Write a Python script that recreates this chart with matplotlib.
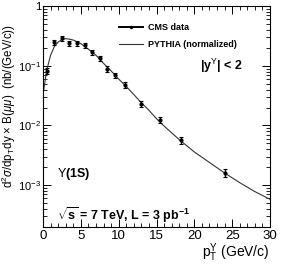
import numpy as np
import matplotlib
matplotlib.use('Agg')
import matplotlib.pyplot as plt
from matplotlib.lines import Line2D
from matplotlib.ticker import LogLocator, MultipleLocator, NullFormatter

plt.rcParams['font.family'] = ['Liberation Sans', 'DejaVu Sans']
plt.rcParams['mathtext.fontset'] = 'custom'
plt.rcParams['mathtext.rm'] = 'Liberation Sans'
plt.rcParams['mathtext.it'] = 'Liberation Sans:italic'
plt.rcParams['mathtext.bf'] = 'Liberation Sans:bold'

# CMS data points (pT, cross section)
pt_data = [0.5, 1.5, 2.5, 3.5, 4.5, 5.5, 6.5, 7.5, 8.5, 9.5, 10.9, 13.0, 15.5, 18.3, 24.0]
xs_data = [0.083, 0.25, 0.29, 0.24, 0.24, 0.22, 0.17, 0.134, 0.089, 0.069, 0.048,
           0.023, 0.0123, 0.0057, 0.0016]
xs_err = [0.010, 0.025, 0.025, 0.022, 0.022, 0.020, 0.016, 0.013, 0.009, 0.007, 0.005,
          0.0025, 0.0014, 0.0008, 0.00025]

# PYTHIA curve
pt_mc = [0.1, 0.5, 1.0, 1.5, 2.0, 2.5, 3.0, 3.5, 4.0, 5.0, 6.0, 7.0, 8.0, 9.0, 10.0,
         11.0, 12.0, 13.0, 14.0, 15.0, 16.0, 18.0, 20.0, 22.0, 24.0, 26.0, 28.0, 30.0]
xs_mc = [0.04, 0.085, 0.15, 0.21, 0.25, 0.275, 0.285, 0.28, 0.27, 0.235, 0.19, 0.15,
         0.11, 0.082, 0.06, 0.045, 0.033, 0.024, 0.018, 0.013, 0.0098, 0.0058, 0.0036,
         0.0024, 0.0016, 0.0011, 0.00078, 0.00058]

fig = plt.figure(figsize=(2.81, 2.66), dpi=100)
ax = fig.add_axes([0.153, 0.147, 0.808, 0.83])

ax.plot(pt_mc, xs_mc, color='#333333', lw=0.8)
ax.errorbar(pt_data, xs_data, yerr=xs_err, fmt='o', color='black', ms=2, lw=1.0,
            capsize=1.2, capthick=0.8)

ax.set_yscale('log')
ax.set_xlim(0, 30)
ax.set_ylim(2e-4, 1)

ax.xaxis.set_major_locator(MultipleLocator(5))
ax.xaxis.set_minor_locator(MultipleLocator(1))
ax.yaxis.set_minor_locator(LogLocator(base=10, subs=np.arange(2, 10), numticks=10))
ax.yaxis.set_minor_formatter(NullFormatter())
ax.set_yticks([1e-3, 1e-2, 1e-1, 1])
ax.set_yticklabels(['$10^{-3}$', '$10^{-2}$', '$10^{-1}$', '1'])

ax.tick_params(which='both', direction='in', top=True, right=True, pad=2)
ax.tick_params(axis='x', labelsize=9.5)
ax.tick_params(axis='y', labelsize=8, pad=1.5)
ax.tick_params(which='major', length=6, width=0.7)
ax.tick_params(which='minor', length=3, width=0.6)
for s in ax.spines.values():
    s.set_linewidth(0.8)

ax.set_ylabel(r'd$^2\sigma$/dp$_\mathrm{T}$dy $\times$ B($\mu\mu$)  (nb/(GeV/c))',
              fontsize=8.3)
ax.yaxis.set_label_coords(-0.112, 0.545)
ax.set_xlabel(r'p$_\mathrm{T}^\Upsilon$ (GeV/c)', fontsize=10, loc='right', labelpad=0)

handles = [Line2D([], [], color='black', lw=1.4, marker='o', ms=1.5),
           Line2D([], [], color='#333333', lw=0.8)]
ax.legend(handles, ['CMS data', 'PYTHIA (normalized)'], loc='upper left', frameon=False,
          prop={'size': 6.5, 'weight': 'bold'}, handlelength=2.6, handletextpad=0.6,
          bbox_to_anchor=(0.30, 0.96), labelspacing=0.9)

ax.text(0.88, 0.73, r'|y$^\Upsilon$| < 2', transform=ax.transAxes,
        ha='right', va='center', fontsize=9, fontweight='bold')
ax.text(0.06, 0.24, r'$\Upsilon$(1S)', transform=ax.transAxes,
        fontsize=9, fontweight='bold', va='center')
ax.text(0.06, 0.055, r'$\sqrt{\mathbf{s}}$ = 7 TeV, L = 3 pb$^{\mathbf{-1}}$',
        transform=ax.transAxes, fontsize=9, fontweight='bold', va='center')

fig.savefig('out.png', dpi=100)
